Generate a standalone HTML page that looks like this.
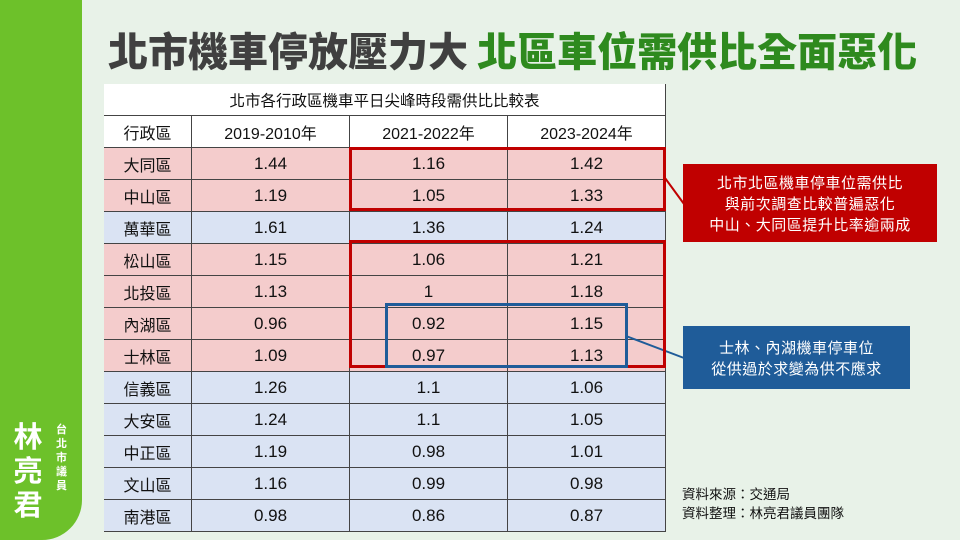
<!DOCTYPE html>
<html><head><meta charset="utf-8"><style>
*{margin:0;padding:0;box-sizing:border-box}
body{width:960px;height:540px;overflow:hidden;position:relative;background:#e8f2e8;font-family:"Liberation Sans","Noto Sans CJK TC",sans-serif}
.side{position:absolute;left:0;top:0;width:82px;height:540px;background:#6dc12a;border-bottom-right-radius:40px}
.name{position:absolute;left:12px;top:418px;width:32px;color:#fff;font-size:29px;font-weight:bold;line-height:34px;text-align:center;font-family:"Noto Sans CJK TC",sans-serif}
.title2{position:absolute;left:56px;top:422px;width:14px;color:#fff;font-size:11px;line-height:14px;font-family:"Noto Sans CJK TC",sans-serif;font-weight:bold}
h1{position:absolute;left:108px;top:22px;font-size:40px;font-weight:900;color:#404040;white-space:nowrap;font-family:"Noto Sans CJK TC",sans-serif;line-height:54px;letter-spacing:0px}
h1 span{color:#2e8a1e}
.c{position:absolute;text-align:center;font-size:17px;color:#111;border-right:1px solid #444;border-bottom:1px solid #444;display:flex;align-items:center;justify-content:center;font-family:"Liberation Sans","Noto Sans CJK TC",sans-serif}
.box{position:absolute;border:3px solid}
.call{position:absolute;color:#fff;font-size:15px;line-height:21px;text-align:center;display:flex;align-items:center;justify-content:center;font-family:"Noto Sans CJK TC",sans-serif;letter-spacing:0.5px}
.src{position:absolute;left:682px;top:484px;font-size:13.5px;line-height:19px;color:#111;font-family:"Noto Sans CJK TC",sans-serif}
</style></head><body>
<div class="side"></div>
<div class="name">林<br>亮<br>君</div>
<div class="title2">台北市議員</div>
<h1>北市機車停放壓力大 <span>北區車位需供比全面惡化</span></h1>
<div id="t" style="position:absolute;left:104px;top:84px;width:562px;height:448px;border-left:1px solid #444;border-top:1px solid #444"></div>
<svg style="position:absolute;left:0;top:0" width="960" height="540">
<line x1="665" y1="178" x2="684" y2="204" stroke="#c00000" stroke-width="2"/>
<line x1="626" y1="336" x2="684" y2="358" stroke="#1f5c99" stroke-width="2"/>
</svg>
<div class="box" style="left:349px;top:147px;width:317px;height:64px;border-color:#c00000"></div>
<div class="box" style="left:349px;top:240px;width:317px;height:128px;border-color:#c00000"></div>
<div class="box" style="left:385px;top:303px;width:243px;height:65px;border-color:#1f5c99"></div>
<div class="call" style="left:683px;top:164px;width:254px;height:78px;background:#c00000">北市北區機車停車位需供比<br>與前次調查比較普遍惡化<br>中山、大同區提升比率逾兩成</div>
<div class="call" style="left:683px;top:326px;width:227px;height:63px;background:#1f5c99">士林、內湖機車停車位<br>從供過於求變為供不應求</div>
<div class="src">資料來源：交通局<br>資料整理：林亮君議員團隊</div>
<script>
var rows=[["大同區","1.44","1.16","1.42",1],["中山區","1.19","1.05","1.33",1],["萬華區","1.61","1.36","1.24",0],["松山區","1.15","1.06","1.21",1],["北投區","1.13","1","1.18",1],["內湖區","0.96","0.92","1.15",1],["士林區","1.09","0.97","1.13",1],["信義區","1.26","1.1","1.06",0],["大安區","1.24","1.1","1.05",0],["中正區","1.19","0.98","1.01",0],["文山區","1.16","0.99","0.98",0],["南港區","0.98","0.86","0.87",0]];
var xs=[104,192,350,508,666];
function cell(x,y,w,h,txt,bg,fs){var d=document.createElement('div');d.className='c';d.style.cssText='left:'+x+'px;top:'+y+'px;width:'+w+'px;height:'+h+'px;background:'+bg+';'+(fs?'font-size:'+fs+'px;':'');d.textContent=txt;document.body.insertBefore(d,document.querySelector('svg'));}
cell(104,84,562,32,"北市各行政區機車平日尖峰時段需供比比較表","#fff",15.5);
var hd=["行政區","2019-2010年","2021-2022年","2023-2024年"];
for(var i=0;i<4;i++)cell(xs[i],116,xs[i+1]-xs[i],32,hd[i],"#fff",16);
rows.forEach(function(r,j){var bg=r[4]?"#f4cccc":"#dae3f3";for(var i=0;i<4;i++)cell(xs[i],148+32*j,xs[i+1]-xs[i],32,r[i],bg,i==0?16:17);});
</script>
</body></html>
